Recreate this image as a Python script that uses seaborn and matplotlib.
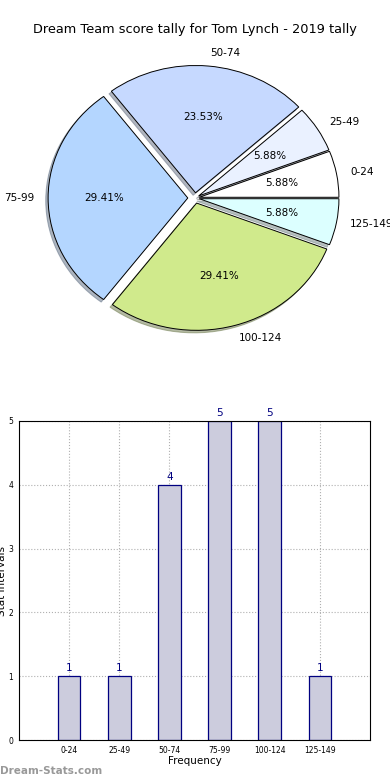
import numpy as np
import pandas as pd
import matplotlib
matplotlib.use("Agg")
import matplotlib.pyplot as plt
import seaborn as sns

# data
intervals = ["0-24", "25-49", "50-74", "75-99", "100-124", "125-149"]
counts = [1, 1, 4, 5, 5, 1]
pie_colors = ["#ffffff", "#eaf1ff", "#c6d9ff", "#b4d6ff", "#d0ea8c", "#dcffff"]
explode = [0.03, 0.03, 0.04, 0.05, 0.04, 0.03]

sns.set_style("white")
plt.rcParams["font.family"] = ["DejaVu Sans"]
plt.rcParams["text.color"] = "black"
plt.rcParams["axes.labelcolor"] = "black"
plt.rcParams["xtick.color"] = "black"
plt.rcParams["ytick.color"] = "black"

fig = plt.figure(figsize=(3.9, 7.8), dpi=100)

# pie chart
ax1 = fig.add_axes([15 / 390, 1 - 362 / 780, 360 / 390, 328 / 780])
wedges, texts, autotexts = ax1.pie(
    counts, labels=intervals, colors=pie_colors, explode=explode,
    autopct="%1.2f%%", startangle=0, radius=0.97,
    shadow={"ox": -0.012, "oy": -0.014, "shade": 0.5},
    wedgeprops={"edgecolor": "black", "linewidth": 0.7},
    textprops={"fontsize": 7.5, "color": "black"},
)
ax1.set_aspect("auto")
ax1.set_xlim(-1.25, 1.25)
ax1.set_ylim(-1.25, 1.25)
fig.text(0.5, 1 - 30 / 780, "Dream Team score tally for Tom Lynch - 2019 tally",
         fontsize=9.3, ha="center", va="center")

# bar chart
ax2 = fig.add_axes([19 / 390, 1 - 740 / 780, 351 / 390, 319 / 780])
df = pd.DataFrame({"interval": intervals, "count": counts})
sns.barplot(data=df, x="interval", y="count", ax=ax2, color="#ccccdd",
            saturation=1, width=0.45, edgecolor="navy", linewidth=0.9)
for i, v in enumerate(counts):
    ax2.text(i, v + 0.05, str(v), ha="center", va="bottom", color="navy", fontsize=7.5)
ax2.set_xlim(-1, 6)
ax2.set_ylim(0, 5)
ax2.set_yticks(range(6))
ax2.grid(True, linestyle=":", color="#b0b0b0", linewidth=0.8)
ax2.set_axisbelow(True)
ax2.tick_params(axis="both", labelsize=5.5, length=2, pad=2)
ax2.set_xlabel("Frequency", fontsize=7.5, labelpad=1)
ax2.set_ylabel("Stat Intervals", fontsize=7.5, labelpad=1)
for s in ax2.spines.values():
    s.set_color("black")
    s.set_linewidth(0.8)

fig.text(0.0, 1 - 771 / 780, "Dream-Stats.com", color="#999999", fontsize=7.5,
         fontweight="bold", ha="left", va="center")

fig.savefig("out.png", dpi=100)
